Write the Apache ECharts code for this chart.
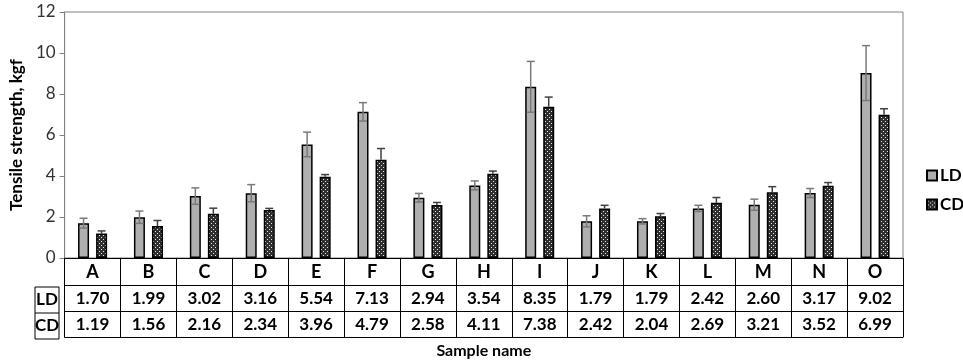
<!DOCTYPE html>
<html><head><meta charset="utf-8">
<script src="https://cdn.jsdelivr.net/npm/echarts@6/dist/echarts.min.js"></script>
<style>html,body{margin:0;padding:0;background:#fff}#c{width:963px;height:364px}</style>
</head><body><div id="c"></div>
<script>
const categories = ['A','B','C','D','E','F','G','H','I','J','K','L','M','N','O'];
const ldValues = [1.70,1.99,3.02,3.16,5.54,7.13,2.94,3.54,8.35,1.79,1.79,2.42,2.60,3.17,9.02];
const cdValues = [1.19,1.56,2.16,2.34,3.96,4.79,2.58,4.11,7.38,2.42,2.04,2.69,3.21,3.52,6.99];
const ldErrors = [0.24,0.30,0.40,0.42,0.60,0.45,0.21,0.22,1.24,0.27,0.13,0.15,0.27,0.22,1.34];
const cdErrors = [0.13,0.27,0.27,0.08,0.11,0.55,0.13,0.13,0.47,0.15,0.13,0.26,0.27,0.16,0.29];
const yTicks = [0,2,4,6,8,10,12];

const FONT = 'Lato';
const cv = document.createElement('canvas');
cv.width = 4; cv.height = 4;
const cx = cv.getContext('2d');
cx.fillStyle = '#2f2f2f'; cx.fillRect(0,0,4,4);
cx.fillStyle = '#e8e8e8'; cx.fillRect(1,1,1,1); cx.fillRect(3,3,1,1);
const cdPattern = {image: cv, repeat: 'repeat'};

const chart = echarts.init(document.getElementById('c'), null, {renderer:'canvas'});

function errSeries(vals, errs, offset, color, both) {
  return {
    type: 'custom', xAxisIndex: 0, yAxisIndex: 0, z: 10, silent: true,
    data: vals.map((v,i)=>[i, v, errs[i]]),
    renderItem: function(params, api) {
      const i = api.value(0), v = api.value(1), e = api.value(2);
      const top = api.coord([i, v + e]);
      const bot = api.coord([i, both ? v - e : v]);
      const x = top[0] + offset;
      const hw = 4;
      const st = {stroke: color, lineWidth: 1.5};
      const ch = [
        {type:'line', shape:{x1:x, y1:top[1], x2:x, y2:bot[1]}, style:st},
        {type:'line', shape:{x1:x-hw, y1:top[1], x2:x+hw, y2:top[1]}, style:st}
      ];
      if (both) ch.push({type:'line', shape:{x1:x-hw, y1:bot[1], x2:x+hw, y2:bot[1]}, style:st});
      return {type:'group', children: ch};
    }
  };
}

const tableLabel = {fontFamily: FONT, fontWeight: 'bold', fontSize: 17, color: '#000', margin: 5};

const option = {
  animation: false,
  backgroundColor: '#fff',
  grid: {left: 59, right: 60, top: 12, bottom: 104, show: true, borderColor: '#808080', borderWidth: 1},
  legend: {
    orient: 'vertical', left: 921, top: 162, itemWidth: 10, itemHeight: 10, itemGap: 12, icon: 'rect',
    data: ['LD','CD'],
    textStyle: {fontFamily: FONT, fontWeight: 'bold', fontSize: 17, color: '#000', padding: [0,0,0,-2]}
  },
  xAxis: [
    {type: 'category', data: categories, position: 'bottom',
      axisLine: {lineStyle: {color: '#000', width: 1}},
      axisTick: {show: true, interval: 0, length: 79, lineStyle: {color: '#000', width: 1}},
      axisLabel: Object.assign({}, tableLabel, {fontSize: 18, margin: 5})},
    {type: 'category', data: ldValues.map(v=>v.toFixed(2)), position: 'bottom', offset: 27,
      axisLine: {lineStyle: {color: '#000'}}, axisTick: {show: false}, axisLabel: tableLabel},
    {type: 'category', data: cdValues.map(v=>v.toFixed(2)), position: 'bottom', offset: 53,
      axisLine: {lineStyle: {color: '#000'}}, axisTick: {show: false}, axisLabel: tableLabel},
    {type: 'category', data: categories, position: 'bottom', offset: 79,
      axisLine: {lineStyle: {color: '#000'}}, axisTick: {show: false}, axisLabel: {show: false},
      name: 'Sample name', nameLocation: 'middle', nameGap: 6,
      nameTextStyle: {fontFamily: FONT, fontWeight: 'bold', fontSize: 16, color: '#000', verticalAlign: 'top'}}
  ],
  yAxis: {
    type: 'value', min: yTicks[0], max: yTicks[yTicks.length-1], interval: 2,
    axisLine: {show: true, lineStyle: {color: '#808080'}},
    axisTick: {show: true, length: 5, lineStyle: {color: '#808080'}},
    splitLine: {show: false},
    axisLabel: {fontFamily: FONT, fontSize: 17, color: '#333', margin: 9},
    name: 'Tensile strength, kgf', nameLocation: 'middle', nameGap: 37,
    nameTextStyle: {fontFamily: FONT, fontWeight: 'bold', fontSize: 17, color: '#000'}
  },
  series: [
    {name: 'LD', type: 'bar', data: ldValues, barWidth: 11, barGap: '64%',
      itemStyle: {color: '#b1aeaf', borderColor: '#000', borderWidth: 1.5}},
    {name: 'CD', type: 'bar', data: cdValues, barWidth: 11,
      itemStyle: {color: cdPattern, borderColor: '#000', borderWidth: 1.5}},
    errSeries(ldValues, ldErrors, -9, '#7a7a7a', true),
    errSeries(cdValues, cdErrors, 9, '#404040', false)
  ],
  graphic: [
    {type: 'rect', shape: {x: 35, y: 287, width: 24, height: 52}, style: {fill: 'none', stroke: '#000', lineWidth: 1}},
    {type: 'line', shape: {x1: 35, y1: 313, x2: 59, y2: 313}, style: {stroke: '#000', lineWidth: 1}},
    {type: 'text', x: 47, y: 300, style: {text: 'LD', fontFamily: FONT, fontWeight: 'bold', fontSize: 17, fill: '#000', align: 'center', verticalAlign: 'middle'}},
    {type: 'text', x: 47, y: 326, style: {text: 'CD', fontFamily: FONT, fontWeight: 'bold', fontSize: 17, fill: '#000', align: 'center', verticalAlign: 'middle'}}
  ]
};
chart.setOption(option);
</script></body></html>
